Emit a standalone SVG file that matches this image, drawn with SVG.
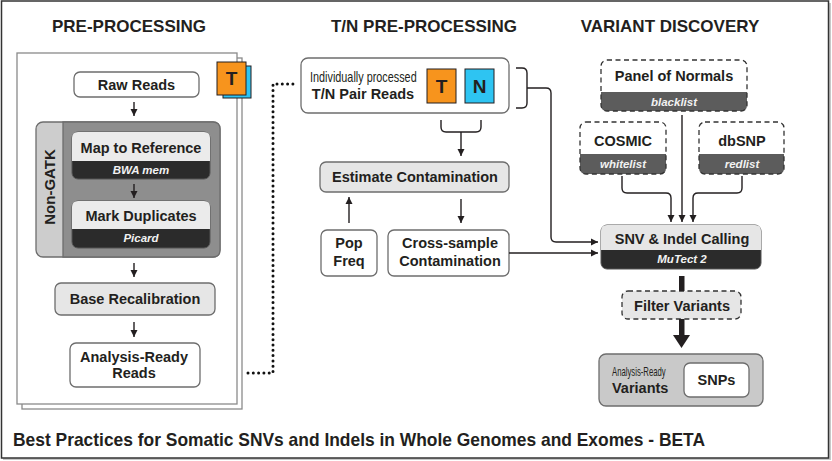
<svg xmlns="http://www.w3.org/2000/svg" width="832" height="461" viewBox="0 0 832 461">
<defs>
<style>
.h{font-family:"Liberation Sans",Arial,sans-serif;font-weight:bold;font-size:17px;fill:#231f20;text-anchor:middle}
.b{font-family:"Liberation Sans",Arial,sans-serif;font-weight:bold;font-size:14.5px;fill:#231f20;text-anchor:middle}
.s{font-family:"Liberation Sans",Arial,sans-serif;font-style:italic;font-weight:bold;font-size:11.5px;fill:#f2f2f2;text-anchor:middle}
.n{font-family:"Liberation Sans",Arial,sans-serif;font-size:14px;fill:#231f20}
.box{fill:#fff;stroke:#6d6d6d;stroke-width:1.3}
.lg{fill:#e6e6e6;stroke:#6d6d6d;stroke-width:1.3}
.dash{stroke:#333;stroke-width:1.3;stroke-dasharray:5 3.5}
.c{fill:none;stroke:#231f20;stroke-width:1.4}
.tl{font-family:"Liberation Sans",Arial,sans-serif;font-weight:bold;font-size:19px;fill:#231f20;text-anchor:middle}
</style>
<marker id="ah" markerUnits="userSpaceOnUse" markerWidth="8" markerHeight="8" refX="7" refY="4" orient="auto">
<path d="M0,0.5 L7,4 L0,7.5 Z" fill="#231f20"/>
</marker>
</defs>
<rect x="0" y="0" width="832" height="461" fill="#fff"/>
<rect x="3" y="3" width="828" height="457" fill="#c8c8c8"/>
<rect x="1.5" y="1" width="827" height="457" fill="#fff" stroke="#333" stroke-width="1.5"/>

<text class="h" x="129" y="32">PRE-PROCESSING</text>
<text class="h" x="424" y="32">T/N PRE-PROCESSING</text>
<text class="h" x="670" y="32">VARIANT DISCOVERY</text>

<g id="pages">
<rect x="22" y="58" width="220" height="351" fill="#fff" stroke="#8a8a8a" stroke-width="1.3"/>
<rect x="17" y="53" width="220" height="351" fill="#fff" stroke="#8a8a8a" stroke-width="1.3"/>
<rect x="223" y="66" width="28" height="32" fill="#2ec4f2" stroke="#231f20" stroke-width="1"/>
<rect x="217" y="62" width="29" height="33" fill="#f7941d" stroke="#231f20" stroke-width="1"/>
<text class="tl" x="231.5" y="85">T</text>
</g>

<g id="raw-reads">
<rect class="box" x="74" y="72" width="125" height="25" rx="6"/>
<text class="b" x="136.5" y="89.5">Raw Reads</text>
</g>

<g id="non-gatk">
<rect x="36" y="122" width="184" height="135" rx="7" fill="#cdcdcd" stroke="#6d6d6d" stroke-width="1.3"/>
<path d="M63,122 L213,122 Q220,122 220,129 L220,250 Q220,257 213,257 L63,257 Z" fill="#8e8e8e" stroke="#6d6d6d" stroke-width="1.3"/>
<text class="b" transform="translate(54.5,187) rotate(-90)" style="font-size:15px">Non-GATK</text>
</g>

<g id="map-ref">
<rect x="72" y="132" width="138" height="47" rx="6" fill="#2b2b2b" stroke="#555" stroke-width="1"/>
<path d="M72,161 L72,138 Q72,132 78,132 L204,132 Q210,132 210,138 L210,161 Z" fill="#ebebeb"/>
<text class="b" x="141" y="153">Map to Reference</text>
<text class="s" x="141" y="174">BWA mem</text>
</g>

<g id="mark-dup">
<rect x="72" y="201" width="138" height="47" rx="6" fill="#2b2b2b" stroke="#555" stroke-width="1"/>
<path d="M72,229 L72,207 Q72,201 78,201 L204,201 Q210,201 210,207 L210,229 Z" fill="#ebebeb"/>
<text class="b" x="141" y="221">Mark Duplicates</text>
<text class="s" x="141" y="242">Picard</text>
</g>

<g id="base-recal">
<rect class="lg" x="55" y="283" width="160" height="32" rx="6"/>
<text class="b" x="135" y="304">Base Recalibration</text>
</g>

<g id="ar-reads">
<rect class="box" x="70" y="343" width="130" height="44" rx="6"/>
<text class="b" x="134" y="362">Analysis-Ready</text>
<text class="b" x="134" y="378">Reads</text>
</g>

<g id="tn-pair">
<rect class="box" x="301" y="58" width="208" height="55" rx="7"/>
<text class="n" transform="translate(310,82) scale(0.775,1)" x="0" y="0">Individually processed</text>
<text class="b" x="363" y="99">T/N Pair Reads</text>
<rect x="427" y="69" width="29" height="34" fill="#f7941d" stroke="#231f20" stroke-width="1"/>
<text class="tl" x="441.5" y="93">T</text>
<rect x="465" y="69" width="29" height="34" fill="#2ec4f2" stroke="#231f20" stroke-width="1"/>
<text class="tl" x="479.5" y="93">N</text>
</g>

<g id="est-contam">
<rect class="lg" x="320" y="162" width="189" height="30" rx="6"/>
<text class="b" x="415" y="182">Estimate Contamination</text>
</g>

<g id="pop-freq">
<rect class="box" x="321" y="230" width="56" height="46" rx="6"/>
<text class="b" x="349" y="248">Pop</text>
<text class="b" x="349" y="266">Freq</text>
</g>

<g id="cross-sample">
<rect class="box" x="388" y="230" width="121" height="46" rx="6"/>
<text class="b" x="450" y="248">Cross-sample</text>
<text class="b" x="450" y="266">Contamination</text>
</g>

<g id="pon">
<path d="M601,92 L747,92 L747,105 Q747,111 741,111 L607,111 Q601,111 601,105 Z" fill="#5c5c5c"/>
<rect class="dash" x="601" y="60" width="146" height="51" rx="6" fill="none"/>
<text class="b" x="674" y="81">Panel of Normals</text>
<text class="s" x="674" y="106">blacklist</text>
</g>

<g id="cosmic">
<path d="M580,154 L666,154 L666,168 Q666,174 660,174 L586,174 Q580,174 580,168 Z" fill="#5c5c5c"/>
<rect class="dash" x="580" y="122" width="86" height="52" rx="6" fill="none"/>
<text class="b" x="623" y="146">COSMIC</text>
<text class="s" x="623" y="168">whitelist</text>
</g>

<g id="dbsnp">
<path d="M699,154 L784,154 L784,168 Q784,174 778,174 L705,174 Q699,174 699,168 Z" fill="#5c5c5c"/>
<rect class="dash" x="699" y="122" width="85" height="52" rx="6" fill="none"/>
<text class="b" x="742" y="146">dbSNP</text>
<text class="s" x="742" y="168">redlist</text>
</g>

<g id="snv-calling">
<rect x="601" y="225" width="160" height="44" rx="6" fill="#2b2b2b" stroke="#555" stroke-width="1"/>
<path d="M601,250 L601,231 Q601,225 607,225 L755,225 Q761,225 761,231 L761,250 Z" fill="#e6e6e6"/>
<text class="b" x="682" y="244">SNV &amp; Indel Calling</text>
<text class="s" x="682" y="263">MuTect 2</text>
</g>

<g id="filter">
<rect class="dash" x="622" y="291" width="119" height="28" rx="6" fill="#e6e6e6" stroke="#6d6d6d"/>
<text class="b" x="682" y="311">Filter Variants</text>
</g>

<g id="ar-variants">
<rect x="599" y="354" width="164" height="52" rx="7" fill="#c9c9c9" stroke="#6d6d6d" stroke-width="1.3"/>
<text class="n" transform="translate(612,376) scale(0.62,1)" x="0" y="0" style="font-size:12.5px">Analysis-Ready</text>
<text class="b" x="612" y="393" style="text-anchor:start">Variants</text>
<rect class="box" x="684" y="363" width="65" height="34" rx="6"/>
<text class="b" x="716.5" y="385">SNPs</text>
</g>

<g id="connectors">
<line class="c" x1="134" y1="102" x2="134" y2="116" marker-end="url(#ah)"/>
<line class="c" x1="134" y1="184" x2="134" y2="198" marker-end="url(#ah)"/>
<line class="c" x1="134" y1="263" x2="134" y2="277" marker-end="url(#ah)"/>
<line class="c" x1="134" y1="322" x2="134" y2="337" marker-end="url(#ah)"/>
<path d="M248,373 L273,373 L273,84 L296,84" fill="none" stroke="#111" stroke-width="3" stroke-linecap="round" stroke-dasharray="0 5.3"/>
<path class="c" d="M516,68 L522,68 Q527,68 527,73 L527,103 Q527,108 522,108 L516,108"/>
<path class="c" d="M527,88 L546,88 Q551,88 551,93 L551,237 Q551,242 556,242 L598,242" marker-end="url(#ah)"/>
<path class="c" d="M441,120 L441,127 Q441,132 446,132 L476,132 Q481,132 481,127 L481,120"/>
<line class="c" x1="461" y1="132" x2="461" y2="156" marker-end="url(#ah)"/>
<line class="c" x1="461" y1="199" x2="461" y2="223" marker-end="url(#ah)"/>
<line class="c" x1="349" y1="223" x2="349" y2="197" marker-end="url(#ah)"/>
<line class="c" x1="509" y1="253" x2="598" y2="253" marker-end="url(#ah)"/>
<line class="c" x1="682" y1="115" x2="682" y2="222" marker-end="url(#ah)"/>
<path class="c" d="M622,176 L622,188 Q622,193 627,193 L666,193 Q671,193 671,198 L671,222" marker-end="url(#ah)"/>
<path class="c" d="M742,176 L742,188 Q742,193 737,193 L698,193 Q693,193 693,198 L693,222" marker-end="url(#ah)"/>
<rect x="679" y="276" width="5.5" height="15" fill="#231f20"/>
<rect x="679" y="319" width="5.5" height="18" fill="#231f20"/>
<path d="M673,335 L690,335 L681.5,348 Z" fill="#231f20"/>
</g>

<text transform="translate(13,446) scale(0.8,1)" x="0" y="0" style="font-family:'Liberation Sans',Arial,sans-serif;font-weight:bold;font-size:17.5px;fill:#231f20" textLength="865" lengthAdjust="spacingAndGlyphs">Best Practices for Somatic SNVs and Indels in Whole Genomes and Exomes - BETA</text>
</svg>
